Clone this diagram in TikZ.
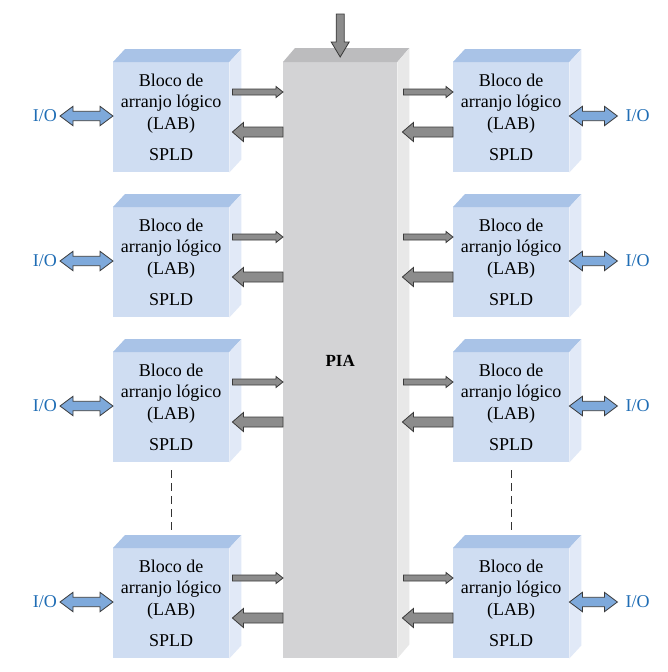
\documentclass[tikz,border=0pt]{standalone}
\usepackage{fontspec}
\setmainfont{Liberation Serif}
\usetikzlibrary{calc}
\definecolor{labfront}{HTML}{CFDDF2}
\definecolor{labtop}{HTML}{A9C3E7}
\definecolor{labside}{HTML}{E1E9F7}
\definecolor{piafront}{HTML}{D3D3D5}
\definecolor{piatop}{HTML}{BCBCBE}
\definecolor{piaside}{HTML}{E8E8E8}
\definecolor{arrfill}{HTML}{8C8C8C}
\definecolor{arrline}{HTML}{3A3A3A}
\definecolor{iofill}{HTML}{7EA9DB}
\definecolor{iotext}{HTML}{1F6DB5}
% horizontal single arrow: style, from, to, shaft half, head half, head length
\newcommand\harrow[6]{%
  \path[#1] let \p1=(#2), \p2=(#3), \p3=($(#3)!#6!(#2)$) in
    (\x1,\y1+#4) -- (\x3,\y1+#4) -- (\x3,\y1+#5) -- (\x2,\y1) --
    (\x3,\y1-#5) -- (\x3,\y1-#4) -- (\x1,\y1-#4) -- cycle;}
% horizontal double arrow
\newcommand\darrow[6]{%
  \path[#1] let \p1=(#2), \p2=(#3), \p3=($(#3)!#6!(#2)$), \p4=($(#2)!#6!(#3)$) in
    (\x1,\y1) -- (\x4,\y1+#5) -- (\x4,\y1+#4) -- (\x3,\y1+#4) -- (\x3,\y1+#5) --
    (\x2,\y1) -- (\x3,\y1-#5) -- (\x3,\y1-#4) -- (\x4,\y1-#4) -- (\x4,\y1-#5) -- cycle;}
\tikzset{
  lab/.style={fill=labfront, draw=none, minimum width=116pt, minimum height=110pt,
    inner sep=0pt, align=center, anchor=north west,
    font=\fontsize{18}{21.5}\selectfont},
  pia/.style={fill=piafront, draw=none, minimum width=114pt, minimum height=596pt,
    inner sep=0pt, anchor=north west},
  grayarrow/.style={fill=arrfill, draw=arrline, line width=0.8pt, line join=miter},
  bluearrow/.style={fill=iofill, draw=arrline, line width=0.8pt, line join=miter},
  iolabel/.style={text=iotext, inner sep=0pt, font=\fontsize{18}{20}\selectfont},
  dots/.style={draw=black!80, line width=0.8pt, dash pattern=on 8pt off 5pt}
}
\begin{document}
\begin{tikzpicture}[x=1pt, y=-1pt]
\useasboundingbox[fill=white] (0,0) rectangle (667,672);

% PIA block
\node[pia] (PIA) at (283,62) {};
\fill[piatop] (PIA.north west) -- ++(12pt,14pt) -- ([shift={(12pt,14pt)}]PIA.north east) -- (PIA.north east) -- cycle;
\fill[piaside] (PIA.north east) -- ++(12pt,14pt) -- ([shift={(12pt,14pt)}]PIA.south east) -- (PIA.south east) -- cycle;
\node[font=\fontsize{17}{20}\selectfont\bfseries, inner sep=0pt] (PIAlbl) at ([yshift=-299pt]PIA.north) {PIA};

% top input arrow
\coordinate (topin) at ([yshift=48pt]PIA.north);
\coordinate (toptip) at ([yshift=5pt]PIA.north);
\path[grayarrow] let \p1=(topin), \p2=(toptip) in
  (\x1-4pt,\y1) -- (\x1-4pt,\y2+15pt) -- (\x1-9pt,\y2+15pt) -- (\x2,\y2) --
  (\x1+9pt,\y2+15pt) -- (\x1+4pt,\y2+15pt) -- (\x1+4pt,\y1) -- cycle;

\foreach \i/\yy in {1/62,2/207,3/352,4/548}{
  % left block
  \node[lab] (L\i) at (113,\yy) {Bloco de\\arranjo lógico\\(LAB)\\[10pt]SPLD};
  \fill[labtop] (L\i.north west) -- ++(12pt,13pt) -- ([shift={(12pt,13pt)}]L\i.north east) -- (L\i.north east) -- cycle;
  \fill[labside] (L\i.north east) -- ++(12pt,13pt) -- ([shift={(12pt,13pt)}]L\i.south east) -- (L\i.south east) -- cycle;
  % right block
  \node[lab] (R\i) at (453,\yy) {Bloco de\\arranjo lógico\\(LAB)\\[10pt]SPLD};
  \fill[labtop] (R\i.north west) -- ++(12pt,13pt) -- ([shift={(12pt,13pt)}]R\i.north east) -- (R\i.north east) -- cycle;
  \fill[labside] (R\i.north east) -- ++(12pt,13pt) -- ([shift={(12pt,13pt)}]R\i.south east) -- (R\i.south east) -- cycle;

  % anchor points
  \coordinate (La\i) at ([xshift=3pt,yshift=-30pt]L\i.north east);
  \coordinate (Lb\i) at ([xshift=3pt,yshift=-70pt]L\i.north east);
  \coordinate (Ra\i) at ([xshift=6pt,yshift=-30pt]PIA.east |- R\i.north);
  \coordinate (Rb\i) at ([xshift=5pt,yshift=-70pt]PIA.east |- R\i.north);
  \coordinate (IOL\i) at ([xshift=-53pt,yshift=-54pt]L\i.north west);
  \coordinate (IOR\i) at ([xshift=48pt,yshift=-54pt]R\i.north east);

  % left block <-> PIA
  \harrow{grayarrow}{La\i}{La\i -| PIA.west}{3pt}{5.5pt}{7pt}
  \harrow{grayarrow}{Lb\i -| PIA.west}{Lb\i}{5pt}{9.5pt}{11pt}
  % PIA <-> right block
  \harrow{grayarrow}{Ra\i}{Ra\i -| R\i.west}{3pt}{5.5pt}{7pt}
  \harrow{grayarrow}{Rb\i -| R\i.west}{Rb\i}{5pt}{9.5pt}{11pt}
  % I/O
  \darrow{bluearrow}{IOL\i}{IOL\i -| L\i.west}{4.7pt}{9.7pt}{13pt}
  \darrow{bluearrow}{IOR\i -| R\i.east}{IOR\i}{4.7pt}{9.7pt}{13pt}
  \node[iolabel, anchor=east] (IOLt\i) at ([xshift=-3pt]IOL\i) {I/O};
  \node[iolabel, anchor=west] (IORt\i) at ([xshift=8pt]IOR\i) {I/O};
}

% dashed continuation lines
\draw[dots] ([yshift=-8pt]L3.south) -- ([yshift=17pt]L4.north);
\draw[dots] ([yshift=-8pt]R3.south) -- ([yshift=17pt]R4.north);
\end{tikzpicture}
\end{document}
